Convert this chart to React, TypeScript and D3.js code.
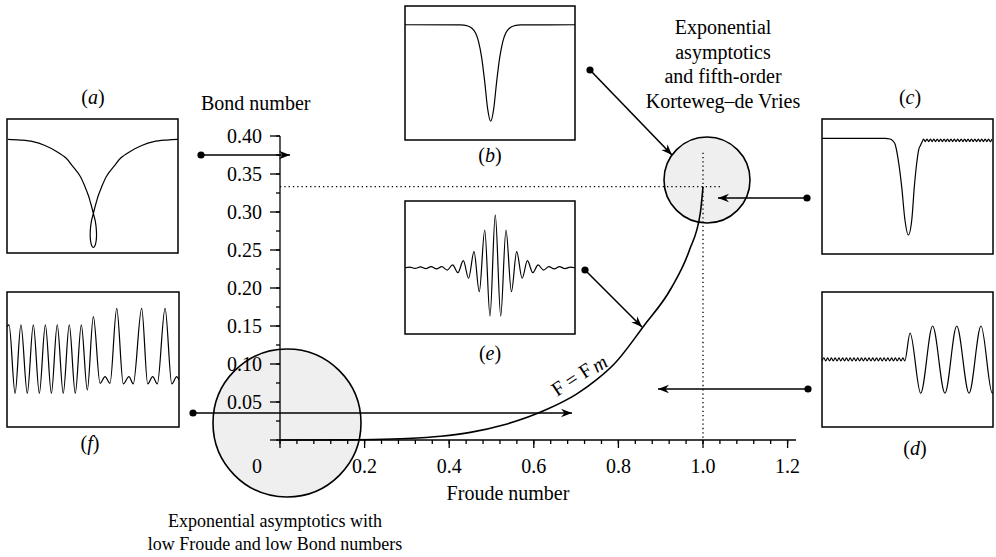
import React, { useEffect, useRef } from 'react';
import * as d3 from 'd3';

// F = F_m curve (Froude, Bond)
const froude = [0, 0.15, 0.22, 0.3, 0.38, 0.45, 0.53, 0.63, 0.7, 0.75, 0.79, 0.86, 0.925, 0.968, 0.994, 1.0];
const bond = [0, 0.0001, 0.0006, 0.002, 0.005, 0.01, 0.02, 0.04, 0.06, 0.08, 0.1, 0.15, 0.2, 0.25, 0.3, 0.3333];

const xTicks = [0, 0.2, 0.4, 0.6, 0.8, 1.0, 1.2];
const xTickLabels = ['0', '0.2', '0.4', '0.6', '0.8', '1.0', '1.2'];
const yTicks = [0, 0.05, 0.1, 0.15, 0.2, 0.25, 0.3, 0.35, 0.4];
const yTickLabels = ['', '0.05', '0.10', '0.15', '0.20', '0.25', '0.30', '0.35', '0.40'];

const critFroude = 1.0;
const critBond = 1 / 3;

// inset profiles, [u, h] with u across the box and h up the box (0..1)
const profileA = [
    [0.006, 0.848], [0.076, 0.843], [0.152, 0.831], [0.222, 0.802], [0.292, 0.756], [0.345, 0.709],
    [0.386, 0.644], [0.427, 0.575], [0.456, 0.495], [0.477, 0.425], [0.489, 0.373], [0.5, 0.321],
    [0.505, 0.295], [0.516, 0.239], [0.523, 0.164], [0.522, 0.097], [0.515, 0.056], [0.505, 0.041],
    [0.495, 0.056], [0.488, 0.097], [0.487, 0.164], [0.494, 0.239], [0.505, 0.295], [0.51, 0.321],
    [0.521, 0.373], [0.533, 0.425], [0.554, 0.495], [0.583, 0.575], [0.624, 0.644], [0.665, 0.709],
    [0.718, 0.756], [0.788, 0.802], [0.858, 0.831], [0.934, 0.843], [1.0, 0.848]
];

const profileB = [
    [0, 0.86], [0.327, 0.859], [0.363, 0.853], [0.392, 0.836], [0.416, 0.797], [0.433, 0.733],
    [0.451, 0.615], [0.469, 0.434], [0.486, 0.234], [0.504, 0.14], [0.522, 0.234], [0.539, 0.434],
    [0.557, 0.615], [0.575, 0.733], [0.592, 0.797], [0.616, 0.836], [0.645, 0.853], [0.681, 0.859], [1, 0.86]
];

const profileC = [
    [0, 0.857], [0.369, 0.856], [0.398, 0.852], [0.413, 0.84], [0.427, 0.815], [0.446, 0.696],
    [0.466, 0.499], [0.485, 0.252], [0.505, 0.141], [0.525, 0.252], [0.54, 0.499], [0.554, 0.674],
    [0.565, 0.77], [0.577, 0.807], [0.589, 0.841]
];
const rippleCCrests = [0.594, 0.614, 0.634, 0.654, 0.674, 0.694, 0.714, 0.734, 0.754, 0.774, 0.794,
    0.814, 0.834, 0.854, 0.874, 0.894, 0.914, 0.934, 0.954, 0.974, 0.994];
const rippleCTroughs = [0.604, 0.624, 0.644, 0.664, 0.684, 0.704, 0.724, 0.744, 0.764, 0.784,
    0.804, 0.824, 0.844, 0.864, 0.884, 0.904, 0.924, 0.944, 0.964, 0.984];
const rippleCLevels = [0.852, 0.832];

const rippleDCrests = [0.011, 0.033, 0.055, 0.077, 0.099, 0.121, 0.143, 0.165, 0.187, 0.209, 0.231,
    0.253, 0.275, 0.297, 0.319, 0.341, 0.363, 0.385, 0.407, 0.429, 0.451, 0.473];
const rippleDTroughs = [0, 0.022, 0.044, 0.066, 0.088, 0.11, 0.132, 0.154, 0.176, 0.198, 0.22, 0.242,
    0.264, 0.286, 0.308, 0.33, 0.352, 0.374, 0.396, 0.418, 0.44, 0.462, 0.484];
const rippleDLevels = [0.513, 0.489];
const profileD = [
    [0.515, 0.696], [0.577, 0.25], [0.647, 0.748], [0.719, 0.25], [0.788, 0.748],
    [0.86, 0.25], [0.93, 0.748], [0.996, 0.25], [1.0, 0.255]
];

const profileE = [
    [0, 0.498], [0.028, 0.503], [0.059, 0.493], [0.091, 0.504], [0.122, 0.492], [0.154, 0.506],
    [0.185, 0.489], [0.217, 0.506], [0.248, 0.481], [0.28, 0.519], [0.311, 0.461], [0.343, 0.551],
    [0.374, 0.419], [0.406, 0.619], [0.437, 0.318], [0.469, 0.782], [0.5, 0.135], [0.531, 0.895],
    [0.563, 0.135], [0.594, 0.782], [0.626, 0.318], [0.657, 0.619], [0.689, 0.419], [0.72, 0.551],
    [0.752, 0.461], [0.783, 0.519], [0.815, 0.481], [0.846, 0.506], [0.878, 0.489], [0.909, 0.506],
    [0.941, 0.492], [0.972, 0.503], [1, 0.498]
];

const profileF = [
    [0, 0.743], [0.012, 0.756], [0.047, 0.25], [0.081, 0.756], [0.118, 0.25], [0.153, 0.756],
    [0.188, 0.25], [0.223, 0.756], [0.258, 0.25], [0.292, 0.756], [0.327, 0.25], [0.362, 0.756],
    [0.397, 0.25], [0.432, 0.756], [0.467, 0.274], [0.502, 0.817], [0.541, 0.324], [0.57, 0.373],
    [0.599, 0.324], [0.638, 0.879], [0.676, 0.319], [0.709, 0.373], [0.734, 0.319], [0.783, 0.879],
    [0.818, 0.319], [0.847, 0.373], [0.874, 0.319], [0.919, 0.879], [0.958, 0.319], [0.987, 0.373],
    [1.0, 0.348]
];

const font = '"Liberation Serif", "Times New Roman", serif';

export default function App() {
    const svgRef = useRef(null);

    const width = 996;
    const height = 557;

    useEffect(() => {
        const svg = d3.select(svgRef.current);
        svg.selectAll('*').remove();

        const x = d3.scaleLinear().domain([0, 1]).range([280, 703]);
        const y = d3.scaleLinear().domain([0, 0.4]).range([440, 136]);

        const defs = svg.append('defs');
        defs.append('marker')
            .attr('id', 'head')
            .attr('viewBox', '-11 -5 12 10')
            .attr('refX', 0)
            .attr('refY', 0)
            .attr('markerWidth', 12)
            .attr('markerHeight', 10)
            .attr('markerUnits', 'userSpaceOnUse')
            .attr('orient', 'auto')
            .append('path')
            .attr('d', 'M0,0 L-11,-4.2 L-7.5,0 L-11,4.2 Z')
            .attr('fill', 'black');

        // shaded regions
        const regions = [
            { cx: 287, cy: 423, r: 74 },
            { cx: 707, cy: 180, r: 43 }
        ];
        svg.selectAll('circle.region')
            .data(regions)
            .enter()
            .append('circle')
            .attr('class', 'region')
            .attr('cx', d => d.cx)
            .attr('cy', d => d.cy)
            .attr('r', d => d.r)
            .attr('fill', '#efefef')
            .attr('stroke', 'black')
            .attr('stroke-width', 1.6);

        // dotted guides
        svg.append('line')
            .attr('x1', x(0)).attr('x2', x(critFroude) + 19)
            .attr('y1', y(critBond)).attr('y2', y(critBond))
            .attr('stroke', 'black').attr('stroke-width', 1.3).attr('stroke-dasharray', '1.3,3');
        svg.append('line')
            .attr('x1', x(critFroude)).attr('x2', x(critFroude))
            .attr('y1', y(critBond) - 34).attr('y2', y(0))
            .attr('stroke', 'black').attr('stroke-width', 1.3).attr('stroke-dasharray', '1.3,3');

        // axes
        const g = svg.append('g').attr('stroke', 'black').attr('stroke-width', 1.3);
        g.append('line').attr('x1', x(0)).attr('x2', x(1.22)).attr('y1', y(0)).attr('y2', y(0));
        g.append('line').attr('x1', x(0)).attr('x2', x(0)).attr('y1', y(0)).attr('y2', y(0.4));

        g.selectAll('line.xminor')
            .data(d3.range(0, 1.2001, 0.04))
            .enter().append('line')
            .attr('x1', d => x(d)).attr('x2', d => x(d))
            .attr('y1', y(0)).attr('y2', y(0) + 4);
        g.selectAll('line.xmajor')
            .data(xTicks)
            .enter().append('line')
            .attr('x1', d => x(d)).attr('x2', d => x(d))
            .attr('y1', y(0)).attr('y2', y(0) + 8);
        g.selectAll('line.yminor')
            .data(d3.range(0, 0.4001, 0.025))
            .enter().append('line')
            .attr('x1', x(0) - 4).attr('x2', x(0))
            .attr('y1', d => y(d)).attr('y2', d => y(d));
        g.selectAll('line.ymajor')
            .data(yTicks)
            .enter().append('line')
            .attr('x1', x(0) - 10).attr('x2', x(0))
            .attr('y1', d => y(d)).attr('y2', d => y(d));

        svg.selectAll('text.xlab')
            .data(xTicks)
            .enter().append('text')
            .attr('x', (d, i) => i === 0 ? x(d) - 23 : x(d))
            .attr('y', y(0) + 33)
            .attr('text-anchor', 'middle')
            .style('font-family', font)
            .style('font-size', '20px')
            .text((d, i) => xTickLabels[i]);

        svg.selectAll('text.ylab')
            .data(yTicks)
            .enter().append('text')
            .attr('x', x(0) - 18)
            .attr('y', d => y(d) + 6.5)
            .attr('text-anchor', 'end')
            .style('font-family', font)
            .style('font-size', '20px')
            .text((d, i) => yTickLabels[i]);

        svg.append('text')
            .attr('x', 201).attr('y', 110)
            .style('font-family', font).style('font-size', '20px')
            .text('Bond number');
        svg.append('text')
            .attr('x', 508).attr('y', 500)
            .attr('text-anchor', 'middle')
            .style('font-family', font).style('font-size', '20px')
            .text('Froude number');

        // F = F_m curve
        const pts = froude.map((f, i) => [f, bond[i]]);
        const curve = d3.line()
            .x(d => x(d[0]))
            .y(d => y(d[1]))
            .curve(d3.curveMonotoneX);
        svg.append('path')
            .attr('d', curve(pts))
            .attr('fill', 'none')
            .attr('stroke', 'black')
            .attr('stroke-width', 1.6);

        const fm = svg.append('text')
            .attr('transform', 'translate(557,397) rotate(-33)')
            .style('font-family', font).style('font-size', '20px');
        fm.append('tspan').text('F = F');
        fm.append('tspan').attr('font-style', 'italic').attr('dx', 3).attr('dy', 2).text('m');

        // arrows from the insets
        const arrows = [
            { x1: 201, y1: 155, x2: 290, y2: 155 },
            { x1: 590, y1: 70, x2: 672, y2: 155 },
            { x1: 807, y1: 198, x2: 718, y2: 198 },
            { x1: 585, y1: 270, x2: 642, y2: 327 },
            { x1: 808, y1: 389, x2: 658, y2: 389 },
            { x1: 193, y1: 413, x2: 572, y2: 413 }
        ];
        svg.selectAll('line.arrow')
            .data(arrows)
            .enter().append('line')
            .attr('x1', d => d.x1).attr('y1', d => d.y1)
            .attr('x2', d => d.x2).attr('y2', d => d.y2)
            .attr('stroke', 'black')
            .attr('stroke-width', 1.6)
            .attr('marker-end', 'url(#head)');
        svg.selectAll('circle.dot')
            .data(arrows)
            .enter().append('circle')
            .attr('cx', d => d.x1).attr('cy', d => d.y1)
            .attr('r', 3.6).attr('fill', 'black');

        // annotations
        const topText = ['Exponential', 'asymptotics', 'and fifth-order', 'Korteweg\u2013de Vries'];
        svg.selectAll('text.top')
            .data(topText)
            .enter().append('text')
            .attr('x', 723).attr('y', (d, i) => 34 + i * 24.7)
            .attr('text-anchor', 'middle')
            .style('font-family', font).style('font-size', '20px')
            .text(d => d);
        const bottomText = ['Exponential asymptotics with', 'low Froude and low Bond numbers'];
        svg.selectAll('text.bottom')
            .data(bottomText)
            .enter().append('text')
            .attr('x', 275).attr('y', (d, i) => 527 + i * 23)
            .attr('text-anchor', 'middle')
            .style('font-family', font).style('font-size', '18px')
            .text(d => d);

        // insets
        const weave = (crests, troughs, levels) => {
            const out = [];
            crests.forEach(c => out.push([c, levels[0]]));
            troughs.forEach(t => out.push([t, levels[1]]));
            return out.sort((a, b) => a[0] - b[0]);
        };

        const insets = [
            { id: 'a', box: [7, 119, 171, 134], data: profileA, loop: true, label: 'a', lx: 93, ly: 104 },
            { id: 'b', box: [405, 6, 170, 134], data: profileB, label: 'b', lx: 490, ly: 162 },
            { id: 'c', box: [822, 119, 171, 135], data: profileC.concat(weave(rippleCCrests, rippleCTroughs, rippleCLevels)), label: 'c', lx: 910, ly: 104 },
            { id: 'd', box: [822, 292, 171, 135], data: weave(rippleDCrests, rippleDTroughs, rippleDLevels).concat(profileD), label: 'd', lx: 915, ly: 455 },
            { id: 'e', box: [405, 201, 170, 133], data: profileE, label: 'e', lx: 490, ly: 360 },
            { id: 'f', box: [7, 292, 172, 135], data: profileF, label: 'f', lx: 90, ly: 450 }
        ];

        insets.forEach(ins => {
            const [bx, by, bw, bh] = ins.box;
            const u = d3.scaleLinear().domain([0, 1]).range([bx, bx + bw]);
            const h = d3.scaleLinear().domain([0, 1]).range([by + bh, by]);

            defs.append('clipPath').attr('id', 'clip-' + ins.id)
                .append('rect').attr('x', bx).attr('y', by).attr('width', bw).attr('height', bh);

            svg.append('rect')
                .attr('x', bx).attr('y', by).attr('width', bw).attr('height', bh)
                .attr('fill', 'white');

            const line = d3.line()
                .x(d => u(d[0]))
                .y(d => h(d[1]))
                .curve(ins.loop ? d3.curveCatmullRom.alpha(0.5) : d3.curveMonotoneX);

            svg.append('path')
                .attr('d', line(ins.data))
                .attr('clip-path', `url(#clip-${ins.id})`)
                .attr('fill', 'none')
                .attr('stroke', 'black')
                .attr('stroke-width', 1.2);

            svg.append('rect')
                .attr('x', bx).attr('y', by).attr('width', bw).attr('height', bh)
                .attr('fill', 'none')
                .attr('stroke', 'black')
                .attr('stroke-width', 1.5);

            const t = svg.append('text')
                .attr('x', ins.lx).attr('y', ins.ly)
                .attr('text-anchor', 'middle')
                .style('font-family', font).style('font-size', '20px');
            t.append('tspan').text('(');
            t.append('tspan').attr('font-style', 'italic').text(ins.label);
            t.append('tspan').text(')');
        });
    }, []);

    return (
        <svg ref={svgRef} width={width} height={height}
            style={{ position: 'absolute', left: 0, top: 0, background: 'white' }} />
    );
}
